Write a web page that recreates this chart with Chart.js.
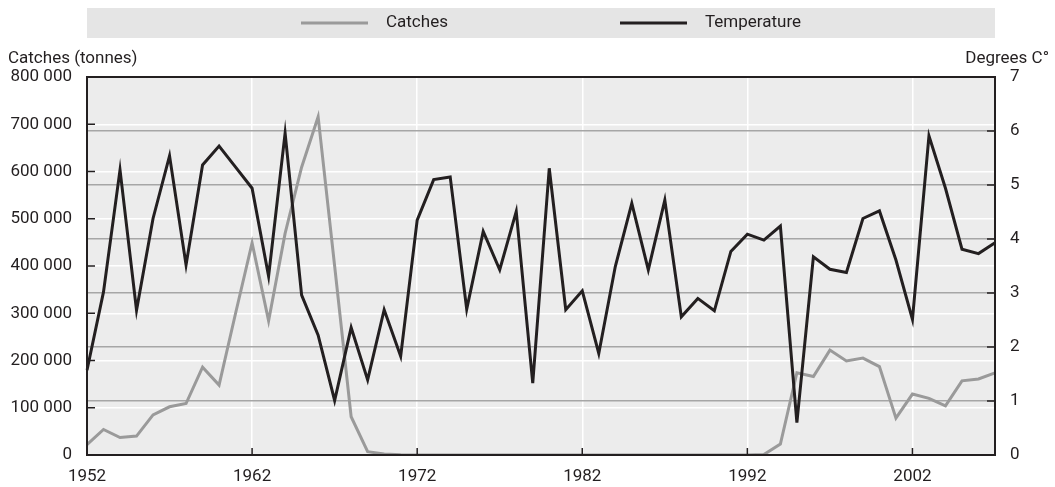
<!DOCTYPE html>
<html>
<head>
<meta charset="utf-8">
<script src="https://cdn.jsdelivr.net/npm/chart.js@4.4.1/dist/chart.umd.min.js"></script>
<style>
    html, body { margin: 0; padding: 0; background: #ffffff; }
    #wrap { width: 1055px; height: 487px; }
</style>
</head>
<body>
<div id="wrap"><canvas id="chart" width="1055" height="487"></canvas></div>
<script>
// Values
const years = [];
for (let y = 1952; y <= 2007; y++) years.push(String(y));

const catches = [
    22000, 54000, 37000, 40000, 85000, 102000, 109000, 186000, 148000, 300000,
    449000, 284000, 469000, 609000, 716000, 400000, 81000, 7000, 2000, 500,
    0, 0, 0, 0, 0, 0, 0, 0, 0, 0,
    0, 0, 0, 0, 0, 0, 0, 0, 0, 0,
    0, 1000, 23000, 174000, 166000, 222000, 199000, 205000, 187000, 78000,
    129000, 120000, 104000, 157000, 161000, 174000
];

const temperature = [
    1.57, 3.02, 5.28, 2.68, 4.38, 5.54, 3.52, 5.37, 5.72, 5.33,
    4.94, 3.31, 5.96, 2.96, 2.22, 1.01, 2.36, 1.39, 2.69, 1.83,
    4.35, 5.10, 5.15, 2.70, 4.14, 3.43, 4.51, 1.33, 5.31, 2.69,
    3.04, 1.88, 3.49, 4.66, 3.43, 4.72, 2.56, 2.90, 2.67, 3.77,
    4.09, 3.98, 4.24, 0.60, 3.67, 3.44, 3.38, 4.38, 4.52, 3.61,
    2.51, 5.91, 4.94, 3.81, 3.73, 3.93
];

const leftTitle = 'Catches (tonnes)';
const rightTitle = 'Degrees C°';

const FONT = "Roboto, 'DejaVu Sans Condensed', sans-serif";
const FONT_SIZE = 17;
const TEXT = '#231f20';

Chart.defaults.font.family = FONT;
Chart.defaults.font.size = FONT_SIZE;
Chart.defaults.color = TEXT;

function spaced(v) {
    return String(v).replace(/\B(?=(\d{3})+(?!\d))/g, ' ');
}

// legend band, axis titles, inner tick marks and frame
const decorPlugin = {
    id: 'decor',
    beforeDraw(chart) {
        const ctx = chart.ctx;
        const a = chart.chartArea;
        ctx.save();
        ctx.fillStyle = '#ececec';
        ctx.fillRect(a.left, a.top, a.right - a.left, a.bottom - a.top);
        ctx.restore();
    },
    afterDraw(chart) {
        const ctx = chart.ctx;
        const a = chart.chartArea;
        ctx.save();

        // legend band
        ctx.fillStyle = '#e5e5e5';
        ctx.fillRect(a.left, 8, a.right - a.left, 30);
        const items = [
            { ds: chart.data.datasets[0], x: 301 },
            { ds: chart.data.datasets[1], x: 620 }
        ];
        ctx.font = FONT_SIZE + 'px ' + FONT;
        ctx.textBaseline = 'middle';
        ctx.textAlign = 'left';
        items.forEach(it => {
            ctx.strokeStyle = it.ds.borderColor;
            ctx.lineWidth = 3;
            ctx.beginPath();
            ctx.moveTo(it.x, 23);
            ctx.lineTo(it.x + 67, 23);
            ctx.stroke();
            ctx.fillStyle = TEXT;
            ctx.fillText(it.ds.label, it.x + 85, 23);
        });

        // axis titles
        ctx.fillText(leftTitle, 8, 59);
        ctx.textAlign = 'right';
        ctx.fillText(rightTitle, 1049, 59);

        // inner tick marks
        ctx.strokeStyle = '#231f20';
        ctx.lineWidth = 1.5;
        const yl = chart.scales.y;
        const yr = chart.scales.y1;
        const xs = chart.scales.x;
        ctx.beginPath();
        yl.ticks.forEach((t, i) => {
            const p = yl.getPixelForTick(i);
            ctx.moveTo(a.left, p);
            ctx.lineTo(a.left + 8, p);
        });
        yr.ticks.forEach((t, i) => {
            const p = yr.getPixelForTick(i);
            ctx.moveTo(a.right, p);
            ctx.lineTo(a.right - 8, p);
        });
        xs.ticks.forEach((t, i) => {
            if (t.label === null || t.label === undefined || t.label === '') return;
            const p = xs.getPixelForTick(i);
            ctx.moveTo(p, a.bottom);
            ctx.lineTo(p, a.bottom - 7);
        });
        ctx.stroke();

        // frame
        ctx.strokeStyle = '#231f20';
        ctx.lineWidth = 2;
        ctx.strokeRect(a.left, a.top, a.right - a.left, a.bottom - a.top);
        ctx.restore();
    }
};

new Chart(document.getElementById('chart'), {
    type: 'line',
    data: {
        labels: years,
        datasets: [
            {
                label: 'Catches',
                data: catches,
                borderColor: '#9a9a9a',
                borderWidth: 3,
                pointRadius: 0,
                tension: 0,
                yAxisID: 'y',
                order: 2
            },
            {
                label: 'Temperature',
                data: temperature,
                borderColor: '#231f20',
                borderWidth: 3,
                pointRadius: 0,
                tension: 0,
                yAxisID: 'y1',
                order: 1
            }
        ]
    },
    options: {
        responsive: false,
        animation: false,
        layout: {
            padding: { top: 77, left: 0, right: 0, bottom: 0 }
        },
        plugins: {
            legend: { display: false },
            tooltip: { enabled: false }
        },
        scales: {
            x: {
                type: 'category',
                offset: false,
                afterFit: function (scale) { scale.height = 32; },
                ticks: {
                    autoSkip: false,
                    maxRotation: 0,
                    padding: 12,
                    color: TEXT,
                    callback: function (val, index) {
                        return index % 10 === 0 ? this.getLabelForValue(val) : null;
                    }
                },
                grid: {
                    color: '#ffffff',
                    lineWidth: 1.5,
                    drawTicks: false
                },
                border: { display: false }
            },
            y: {
                type: 'linear',
                position: 'left',
                min: 0,
                max: 800000,
                afterFit: function (scale) { scale.width = 87; },
                ticks: {
                    stepSize: 100000,
                    padding: 15,
                    color: TEXT,
                    callback: function (v) { return spaced(v); }
                },
                grid: {
                    color: '#ffffff',
                    lineWidth: 1.5,
                    drawTicks: false
                },
                border: { display: false }
            },
            y1: {
                type: 'linear',
                position: 'right',
                min: 0,
                max: 7,
                afterFit: function (scale) { scale.width = 60; },
                ticks: {
                    stepSize: 1,
                    padding: 15,
                    color: TEXT
                },
                grid: {
                    color: '#a6a6a6',
                    lineWidth: 1.5,
                    drawTicks: false
                },
                border: { display: false }
            }
        }
    },
    plugins: [decorPlugin]
});
</script>
</body>
</html>
